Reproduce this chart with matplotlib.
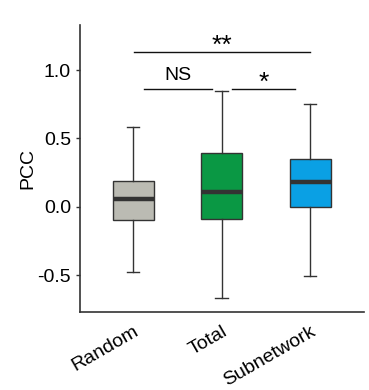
import matplotlib.pyplot as plt

plt.rcParams['font.family'] = ['Liberation Sans', 'DejaVu Sans']

groups = ['Random', 'Total', 'Subnetwork']
whislo = [-0.48, -0.67, -0.51]
q1 = [-0.10, -0.09, 0.00]
med = [0.06, 0.11, 0.18]
q3 = [0.19, 0.39, 0.35]
whishi = [0.58, 0.85, 0.75]
colors = ['#BBBBB3', '#0A9844', '#0AA0E4']

# significance brackets: (x start, x end, y, label)
sig_x0 = [1.12, 2.12, 1.01]
sig_x1 = [1.89, 2.83, 3.0]
sig_y = [0.865, 0.86, 1.13]
sig_txt = ['NS', '*', '**']

stats = []
for i, g in enumerate(groups):
    stats.append(dict(label=g, whislo=whislo[i], q1=q1[i], med=med[i],
                      q3=q3[i], whishi=whishi[i], fliers=[]))

fig = plt.figure(figsize=(3.69, 3.90), dpi=100)
ax = fig.add_axes([0.217, 0.2, 0.77, 0.736])

bp = ax.bxp(stats, positions=[1, 2, 3], widths=0.46, patch_artist=True,
            showfliers=False,
            boxprops=dict(edgecolor='#333333', linewidth=1.0),
            medianprops=dict(color='#333333', linewidth=3.2),
            whiskerprops=dict(color='#333333', linewidth=1.0),
            capprops=dict(color='#333333', linewidth=1.0))
for patch, c in zip(bp['boxes'], colors):
    patch.set_facecolor(c)
for cap in bp['caps']:
    x = cap.get_xdata()
    m = (x[0] + x[1]) / 2
    cap.set_xdata([m - 0.07, m + 0.07])

for x0, x1, y, t in zip(sig_x0, sig_x1, sig_y, sig_txt):
    ax.plot([x0, x1], [y, y], color='#111111', lw=1.0)
    if t == 'NS':
        ax.text((x0 + x1) / 2, y + 0.035, t, ha='center', va='bottom', fontsize=14)
    else:
        ax.text((x0 + x1) / 2, y - 0.04, t, ha='center', va='bottom', fontsize=19)

ax.set_xlim(0.4, 3.61)
ax.set_ylim(-0.77, 1.33)
ax.set_yticks([-0.5, 0.0, 0.5, 1.0])
ax.set_yticklabels(['-0.5', '0.0', '0.5', '1.0'])
ax.set_ylabel('PCC', fontsize=14, labelpad=1)
ax.tick_params(axis='y', labelsize=14, length=3, width=1, color='#333333')
ax.tick_params(axis='x', labelsize=14, length=0, pad=8)
plt.setp(ax.get_xticklabels(), rotation=30, ha='right', rotation_mode='anchor')
for s in ['top', 'right']:
    ax.spines[s].set_visible(False)
for s in ['left', 'bottom']:
    ax.spines[s].set_color('#333333')
    ax.spines[s].set_linewidth(1.2)

fig.savefig('out.png', dpi=100)
